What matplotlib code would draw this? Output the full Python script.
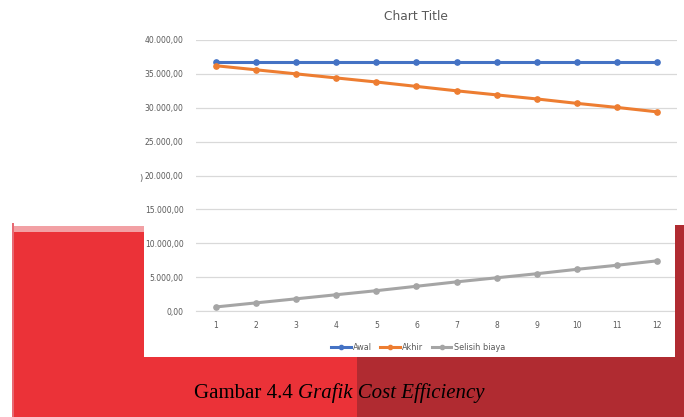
import matplotlib
matplotlib.use("Agg")
import matplotlib.pyplot as plt
from matplotlib.patches import Rectangle
from matplotlib.ticker import FuncFormatter, MultipleLocator

# data
bulan = [1, 2, 3, 4, 5, 6, 7, 8, 9, 10, 11, 12]
awal = [36800] * 12
akhir = [36200, 35600, 35000, 34400, 33800, 33150, 32500, 31900, 31300, 30650, 30050, 29400]
selisih = [600, 1200, 1800, 2400, 3000, 3650, 4300, 4900, 5500, 6150, 6750, 7400]

W, H = 684, 417
GREY_TXT = '#595959'


def fx(x):
    return x / W


def fy(y):
    # pixel y measured from the top
    return 1 - y / H


def fmt_id(v, pos):
    s = '{:,.2f}'.format(v)
    return s.replace(',', 'X').replace('.', ',').replace('X', '.')


def block(x0, y0, x1, y1, c):
    # rectangle given in pixel corners (top-left origin)
    fig.patches.append(Rectangle((fx(x0), fy(y1)), fx(x1 - x0), fy(y0) - fy(y1),
                                 transform=fig.transFigure, color=c, lw=0, zorder=0))


fig = plt.figure(figsize=(W / 100, H / 100), dpi=100)
fig.patch.set_facecolor('white')

# red background blocks around the screenshot
bright = '#EB3238'
dark = '#B02B31'
block(12, 226, 144, 232, '#F2A0A4')
block(12, 232, 144, 417, bright)
block(12, 357, 357, 417, bright)
block(357, 357, 684, 417, dark)
block(675, 225, 684, 417, dark)
block(12, 223, 14, 417, '#E76A74')

ax = fig.add_axes([fx(196), fy(311), fx(481), fy(40) - fy(311)])
ax.set_facecolor('none')

ax.plot(bulan, awal, color='#4472C4', lw=2.2, marker='o', ms=3.8, label='Awal')
ax.plot(bulan, akhir, color='#ED7D31', lw=2.2, marker='o', ms=3.8, label='Akhir')
ax.plot(bulan, selisih, color='#A5A5A5', lw=2.2, marker='o', ms=3.8, label='Selisih biaya')

ax.set_xlim(0.5, 12.5)
ax.set_ylim(0, 40000)
ax.set_xticks(bulan)
ax.yaxis.set_major_locator(MultipleLocator(5000))
ax.yaxis.set_major_formatter(FuncFormatter(fmt_id))
ax.grid(axis='y', color='#D9D9D9', lw=0.9)
ax.set_axisbelow(True)
for s in ['top', 'right', 'left']:
    ax.spines[s].set_visible(False)
ax.spines['bottom'].set_color('#D9D9D9')
ax.tick_params(axis='y', length=0, labelsize=5.5, colors=GREY_TXT, pad=9)
ax.tick_params(axis='x', length=0, labelsize=5.5, colors=GREY_TXT, pad=7)

fig.text(fx(416), fy(17), 'Chart Title', ha='center', va='center', fontsize=8.8, color=GREY_TXT)
fig.text(fx(143), fy(179), ')', ha='right', va='center', fontsize=6, color=GREY_TXT)

fig.legend(loc='center', bbox_to_anchor=(fx(418), fy(347)), ncol=3, frameon=False,
           fontsize=5.9, handlelength=2.4, columnspacing=1.0, handletextpad=0.3,
           markerscale=0.8, labelcolor=GREY_TXT)

# caption, regular + italic part
fig.canvas.draw()
r = fig.canvas.get_renderer()
t1 = fig.text(fx(194), fy(393), 'Gambar 4.4 ', ha='left', va='center',
              fontsize=15, family='Liberation Serif', color='black')
bb = t1.get_window_extent(renderer=r)
fig.text(bb.x1 / W, fy(393), 'Grafik Cost Efficiency', ha='left', va='center',
         fontsize=15, family='Liberation Serif', style='italic', color='black')

fig.savefig('out.png', dpi=100)
